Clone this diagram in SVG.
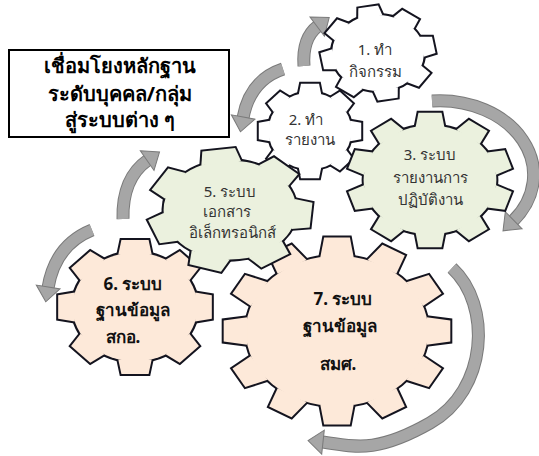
<svg xmlns="http://www.w3.org/2000/svg" xmlns:xlink="http://www.w3.org/1999/xlink" width="539" height="456" viewBox="0 0 539 456">
  <style>
    .t { font-family: "Noto Sans", "DejaVu Sans", sans-serif; text-anchor: middle; }
    .g { fill: #333333; font-size: 15px; }
    .b { fill: #111111; font-size: 17px; font-weight: bold; }
    .title { fill: #000000; font-size: 20px; font-weight: bold; }
    .rim { stroke: #14141f; stroke-width: 4; }
    .fill { stroke: none; }
    .white { fill: #ffffff; }
    .green { fill: #ebf1de; }
    .peach { fill: #fde9d9; }
    .shaft-edge { fill: none; stroke: #7a7a7a; stroke-width: 13; }
    .shaft { fill: none; stroke: #a6a6a6; stroke-width: 11; marker-end: url(#head); }
  </style>
  <defs>
    <marker id="head" markerUnits="userSpaceOnUse" markerWidth="20" markerHeight="30" viewBox="-2 -15 20 30" refX="1" refY="0" orient="auto">
      <path d="M0 -12 L15 0 L0 12 Z" fill="#a6a6a6" stroke="#7a7a7a" stroke-width="1"/>
    </marker>
    <!-- unit gears: radius 100 at the tips, 80 at the root -->
    <polygon id="tooth8" points="-21.4,-77.1 -17.4,-98.5 17.4,-98.5 21.4,-77.1" vector-effect="non-scaling-stroke"/>
    <polygon id="tooth7" points="-24.1,-76.3 -19.9,-98 19.9,-98 24.1,-76.3" vector-effect="non-scaling-stroke"/>
    <polygon id="tooth10" points="-17.3,-78.1 -13.9,-99 13.9,-99 17.3,-78.1" vector-effect="non-scaling-stroke"/>
    <polygon id="tooth12" points="-14.6,-78.7 -11.3,-99.4 11.3,-99.4 14.6,-78.7" vector-effect="non-scaling-stroke"/>
    <g id="gear8">
      <circle r="80" vector-effect="non-scaling-stroke"/>
      <use href="#tooth8"/>
      <use href="#tooth8" transform="rotate(45)"/>
      <use href="#tooth8" transform="rotate(90)"/>
      <use href="#tooth8" transform="rotate(135)"/>
      <use href="#tooth8" transform="rotate(180)"/>
      <use href="#tooth8" transform="rotate(225)"/>
      <use href="#tooth8" transform="rotate(270)"/>
      <use href="#tooth8" transform="rotate(315)"/>
    </g>
    <g id="gear7">
      <circle r="80" vector-effect="non-scaling-stroke"/>
      <use href="#tooth7"/>
      <use href="#tooth7" transform="rotate(51.43)"/>
      <use href="#tooth7" transform="rotate(102.86)"/>
      <use href="#tooth7" transform="rotate(154.29)"/>
      <use href="#tooth7" transform="rotate(205.71)"/>
      <use href="#tooth7" transform="rotate(257.14)"/>
      <use href="#tooth7" transform="rotate(308.57)"/>
    </g>
    <g id="gear10">
      <circle r="80" vector-effect="non-scaling-stroke"/>
      <use href="#tooth10"/>
      <use href="#tooth10" transform="rotate(36)"/>
      <use href="#tooth10" transform="rotate(72)"/>
      <use href="#tooth10" transform="rotate(108)"/>
      <use href="#tooth10" transform="rotate(144)"/>
      <use href="#tooth10" transform="rotate(180)"/>
      <use href="#tooth10" transform="rotate(216)"/>
      <use href="#tooth10" transform="rotate(252)"/>
      <use href="#tooth10" transform="rotate(288)"/>
      <use href="#tooth10" transform="rotate(324)"/>
    </g>
    <g id="gear12">
      <circle r="80" vector-effect="non-scaling-stroke"/>
      <use href="#tooth12"/>
      <use href="#tooth12" transform="rotate(30)"/>
      <use href="#tooth12" transform="rotate(60)"/>
      <use href="#tooth12" transform="rotate(90)"/>
      <use href="#tooth12" transform="rotate(120)"/>
      <use href="#tooth12" transform="rotate(150)"/>
      <use href="#tooth12" transform="rotate(180)"/>
      <use href="#tooth12" transform="rotate(210)"/>
      <use href="#tooth12" transform="rotate(240)"/>
      <use href="#tooth12" transform="rotate(270)"/>
      <use href="#tooth12" transform="rotate(300)"/>
      <use href="#tooth12" transform="rotate(330)"/>
    </g>
  </defs>

  <rect width="539" height="456" fill="#ffffff"/>

  <!-- curved cycle arrows -->
  <g id="connectors">
    <g id="arrow-1">
      <path class="shaft-edge" d="M304 66 Q302 38 318 26"/>
      <path class="shaft" d="M304 66 Q302 38 318 26"/>
    </g>
    <g id="arrow-2">
      <path class="shaft-edge" d="M283 69 Q250 80 243 118"/>
      <path class="shaft" d="M283 69 Q250 80 243 118"/>
    </g>
    <g id="arrow-3">
      <path class="shaft-edge" d="M432 101 A94 74 0 0 1 513 221"/>
      <path class="shaft" d="M432 101 A94 74 0 0 1 513 221"/>
    </g>
    <g id="arrow-4">
      <path class="shaft-edge" d="M123 219 Q122 178 148 160"/>
      <path class="shaft" d="M123 219 Q122 178 148 160"/>
    </g>
    <g id="arrow-5">
      <path class="shaft-edge" d="M92 230 Q55 245 48 288"/>
      <path class="shaft" d="M92 230 Q55 245 48 288"/>
    </g>
    <g id="arrow-6">
      <path class="shaft-edge" d="M452 268 C492 305 488 390 430 423 S350 445 322 442"/>
      <path class="shaft" d="M452 268 C492 305 488 390 430 423 S350 445 322 442"/>
    </g>
  </g>

  <g id="title-box">
    <rect x="9" y="50" width="220" height="87" fill="#ffffff" stroke="#000000" stroke-width="2"/>
    <text class="t title" x="120" y="73">เชื่อมโยงหลักฐาน</text>
    <text class="t title" x="120" y="101">ระดับบุคคล/กลุ่ม</text>
    <text class="t title" x="120" y="127">สู่ระบบต่าง ๆ</text>
  </g>

  <g id="gear-1">
    <use href="#gear8" class="rim white" transform="translate(378 53) scale(0.575 0.475) rotate(-10)"/>
    <use href="#gear8" class="fill white" transform="translate(378 53) scale(0.575 0.475) rotate(-10)"/>
    <text class="t g" x="375" y="55">1. ทำ</text>
    <text class="t g" x="375" y="77">กิจกรรม</text>
  </g>

  <g id="gear-2">
    <use href="#gear8" class="rim white" transform="translate(310 131) scale(0.52 0.48)"/>
    <use href="#gear8" class="fill white" transform="translate(310 131) scale(0.52 0.48)"/>
    <text class="t g" x="306" y="125">2. ทำ</text>
    <text class="t g" x="310" y="145">รายงาน</text>
  </g>

  <g id="gear-3">
    <use href="#gear10" class="rim green" transform="translate(430 180) scale(0.83 0.68)"/>
    <use href="#gear10" class="fill green" transform="translate(430 180) scale(0.83 0.68)"/>
    <text class="t g" x="430" y="160">3. ระบบ</text>
    <text class="t g" x="430" y="183">รายงานการ</text>
    <text class="t g" x="430" y="205">ปฏิบัติงาน</text>
  </g>

  <g id="gear-7">
    <use href="#gear12" class="rim peach" transform="translate(337 331) scale(1.14 0.94)"/>
    <use href="#gear12" class="fill peach" transform="translate(337 331) scale(1.14 0.94)"/>
    <text class="t b" x="343" y="305">7. ระบบ</text>
    <text class="t b" x="340" y="332">ฐานข้อมูล</text>
    <text class="t b" x="338" y="370">สมศ.</text>
  </g>

  <g id="gear-6">
    <use href="#gear8" class="rim peach" transform="translate(135 307) scale(0.78 0.68)"/>
    <use href="#gear8" class="fill peach" transform="translate(135 307) scale(0.78 0.68)"/>
    <text class="t b" x="133" y="290">6. ระบบ</text>
    <text class="t b" x="133" y="316">ฐานข้อมูล</text>
    <text class="t b" x="123" y="343">สกอ.</text>
  </g>

  <g id="gear-5">
    <use href="#gear7" class="rim green" transform="translate(230 210) scale(0.83 0.62) rotate(-8)"/>
    <use href="#gear7" class="fill green" transform="translate(230 210) scale(0.83 0.62) rotate(-8)"/>
    <text class="t g" x="230" y="197">5. ระบบ</text>
    <text class="t g" x="227" y="217">เอกสาร</text>
    <text class="t g" x="232" y="238">อิเล็กทรอนิกส์</text>
  </g>
</svg>
